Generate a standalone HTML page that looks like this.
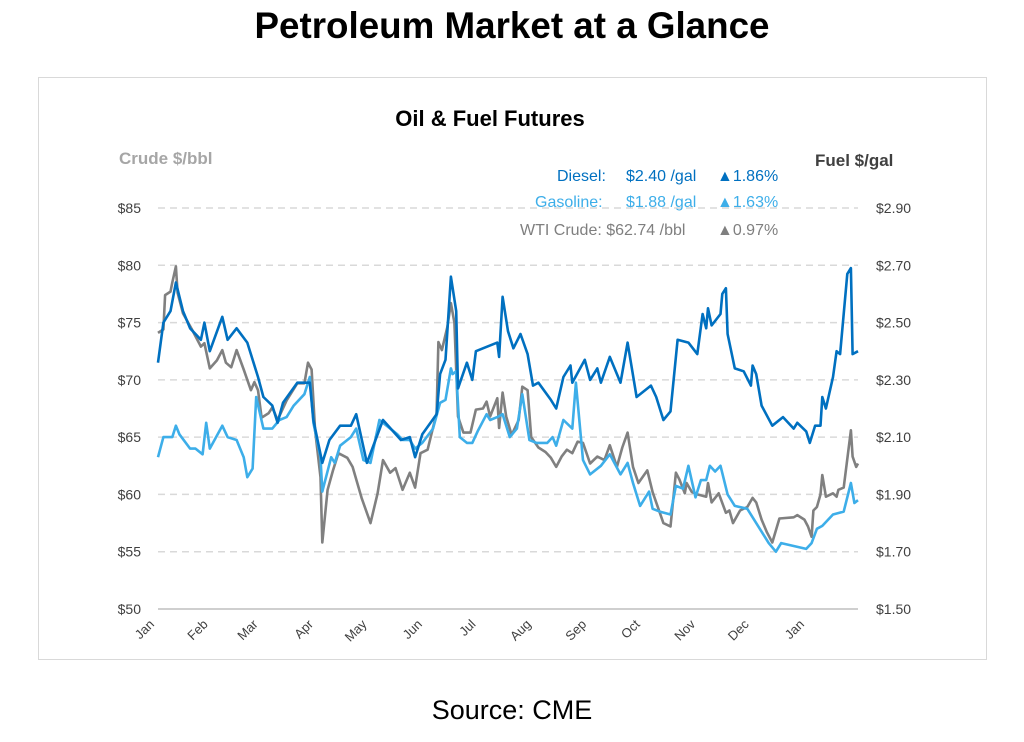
<!DOCTYPE html>
<html><head><meta charset="utf-8"><style>
body{margin:0;background:#fff;font-family:"Liberation Sans",sans-serif}
svg text{font-family:"Liberation Sans",sans-serif}
</style></head><body>
<svg id="c" width="1024" height="737" viewBox="0 0 1024 737" xmlns="http://www.w3.org/2000/svg">
<text x="512" y="38" text-anchor="middle" font-size="37" font-weight="bold" fill="#000" textLength="515" lengthAdjust="spacingAndGlyphs">Petroleum Market at a Glance</text>
<rect x="38.5" y="77.5" width="948" height="582" fill="none" stroke="#d9d9d9"/>
<text x="490" y="126" text-anchor="middle" font-size="22" font-weight="bold" fill="#000">Oil &amp; Fuel Futures</text>
<text x="119" y="164" font-size="17" font-weight="bold" fill="#a6a6a6">Crude $/bbl</text>
<text x="815" y="166" font-size="17" font-weight="bold" fill="#404040">Fuel $/gal</text>
<g font-size="16">
<text x="557" y="181" fill="#0070c0">Diesel:</text>
<text x="626" y="181" fill="#0070c0">$2.40 /gal</text>
<text x="717" y="181" fill="#0070c0">▲1.86%</text>
<text x="535" y="207" fill="#3daee9">Gasoline:</text>
<text x="626" y="207" fill="#3daee9">$1.88 /gal</text>
<text x="717" y="207" fill="#3daee9">▲1.63%</text>
<text x="520" y="235" fill="#7f7f7f">WTI Crude: $62.74 /bbl</text>
<text x="717" y="235" fill="#7f7f7f">▲0.97%</text>
</g>
<g id="grid"></g><g id="axes"></g><g id="lines"></g>
<text x="512" y="719" text-anchor="middle" font-size="27" fill="#000">Source: CME</text>
</svg>
<script>
const crudeTicks=[50,55,60,65,70,75,80,85];
const fuelTicks=["$1.50","$1.70","$1.90","$2.10","$2.30","$2.50","$2.70","$2.90"];
const monthLabels=["Jan","Feb","Mar","Apr","May","Jun","Jul","Aug","Sep","Oct","Nov","Dec","Jan"];
const monthDays=[-14,16,44,75,105,136,166,197,228,258,289,319,350];
const dieselDays=[0,3,7,10,14,18,24,26,29,36,39,44,50,56,59,64,67,70,78,85,87,92,96,102,108,111,117,126,136,141,144,148,156,158,161,164,167,168,173,176,178,182,190,191,193,196,199,203,207,210,213,220,223,227,231,232,239,242,246,248,253,259,263,268,276,279,283,287,291,297,302,305,307,308,310,315,316,318,319,323,328,332,333,335,338,344,350,356,358,363,365,368,371,372,374,378,380,382,386,388,389,392];
const dieselVals=[2.36,2.50,2.54,2.64,2.54,2.48,2.44,2.50,2.40,2.52,2.44,2.48,2.43,2.31,2.24,2.21,2.15,2.22,2.29,2.29,2.16,2.01,2.09,2.14,2.14,2.18,2.01,2.16,2.09,2.10,2.03,2.11,2.18,2.32,2.37,2.66,2.54,2.27,2.36,2.30,2.40,2.41,2.43,2.38,2.59,2.47,2.41,2.46,2.39,2.28,2.29,2.23,2.20,2.31,2.35,2.29,2.37,2.30,2.34,2.29,2.38,2.29,2.43,2.24,2.28,2.24,2.16,2.19,2.44,2.43,2.39,2.53,2.48,2.55,2.49,2.53,2.60,2.62,2.46,2.34,2.33,2.28,2.35,2.32,2.21,2.14,2.17,2.13,2.15,2.12,2.08,2.14,2.14,2.24,2.20,2.31,2.40,2.39,2.67,2.69,2.39,2.40];
const gasDays=[0,3,8,10,12,18,21,25,27,29,36,39,44,48,50,53,55,59,64,68,72,76,82,85,87,91,92,97,99,102,108,111,115,119,124,128,134,137,141,144,148,154,158,161,164,165,167,169,173,176,179,184,186,190,193,197,201,204,208,212,218,221,223,227,232,234,238,242,248,253,259,263,266,270,275,277,281,287,290,294,297,301,304,307,309,312,315,319,323,330,337,342,346,349,356,363,366,369,372,378,384,388,390,392];
const gasVals=[2.03,2.10,2.10,2.14,2.11,2.06,2.06,2.04,2.15,2.06,2.14,2.10,2.09,2.03,1.96,1.99,2.24,2.13,2.13,2.16,2.17,2.21,2.25,2.31,2.15,2.03,1.91,2.03,2.01,2.07,2.10,2.13,2.02,2.01,2.16,2.14,2.11,2.09,2.09,2.06,2.08,2.13,2.22,2.23,2.34,2.32,2.33,2.10,2.08,2.08,2.12,2.18,2.16,2.17,2.18,2.10,2.13,2.25,2.09,2.08,2.08,2.10,2.07,2.16,2.13,2.29,2.02,1.97,2.00,2.04,1.97,2.01,1.94,1.86,1.91,1.85,1.84,1.83,1.93,1.92,2.00,1.89,1.95,1.95,2.00,1.98,2.00,1.90,1.86,1.85,1.78,1.73,1.70,1.73,1.72,1.71,1.73,1.78,1.79,1.83,1.84,1.94,1.87,1.88];
const crudeDays=[0,3,4,7,8,10,11,14,19,24,26,29,33,36,38,41,44,48,52,54,56,58,62,64,67,72,78,82,84,86,88,91,92,95,98,101,106,109,114,119,123,126,130,133,137,141,144,147,151,156,157,159,162,164,166,168,171,175,178,182,184,186,188,190,191,193,195,198,202,204,207,209,213,217,220,223,226,229,232,235,238,242,246,250,253,257,260,263,266,269,274,277,279,283,287,290,292,295,296,299,302,307,308,310,314,318,320,322,326,330,333,335,338,341,344,348,356,358,362,364,366,367,369,371,372,374,378,380,381,384,388,389,391,392];
const crudeVals=[74.1,74.4,77.4,77.7,78.5,79.9,77.6,75.8,74.4,72.9,73.2,71.0,71.7,72.6,71.5,71.1,72.6,70.9,69.1,69.8,69.1,66.7,67.1,67.6,66.5,68.2,69.7,69.7,71.5,70.9,65.6,61.5,55.8,60.4,62.1,63.6,63.2,62.4,59.7,57.5,60.1,63.0,61.9,62.3,60.4,61.9,60.6,63.6,63.9,67.1,73.3,72.6,74.6,76.7,75.0,66.8,65.4,65.4,67.4,67.5,68.1,66.8,67.6,68.4,65.8,68.9,66.8,65.2,66.5,69.4,69.1,65.0,64.1,63.7,63.2,62.4,63.3,63.9,63.6,64.6,64.5,62.7,63.3,63.0,64.3,62.4,64.1,65.4,62.4,61.0,62.1,60.2,59.3,57.5,57.2,61.9,61.3,60.1,61.0,60.2,60.0,59.8,61.0,59.3,60.1,58.4,58.6,57.5,58.6,58.9,59.7,59.3,57.8,56.7,55.8,57.9,58.0,58.2,57.8,57.2,56.3,58.6,58.9,60.0,61.7,59.8,60.1,59.8,60.4,60.6,65.6,63.3,62.4,62.7];

const X0=158,X1=858,Y0=609,Y1=208;
const xScale=d=>X0+d*(X1-X0)/392;
const yCrude=v=>Y0-(v-50)*(Y0-Y1)/35;
const yFuel=v=>Y0-(v-1.5)*(Y0-Y1)/1.4;
const NS="http://www.w3.org/2000/svg";
function mk(tag,attrs,parent,txt){const e=document.createElementNS(NS,tag);for(const k in attrs)e.setAttribute(k,attrs[k]);if(txt!==undefined)e.textContent=txt;parent.appendChild(e);return e;}
const grid=document.getElementById('grid'),axes=document.getElementById('axes'),lines=document.getElementById('lines');
crudeTicks.forEach((t,i)=>{
  const y=yCrude(t);
  if(t>50){const g=mk('line',{x1:X0,x2:X1,y1:y,y2:y,stroke:'#d9d9d9','stroke-width':1.5,'stroke-dasharray':'7,5'},grid);
  
  }
  const l=mk('text',{x:141,y:y+5,'text-anchor':'end','font-size':14,fill:'#404040'},axes,'$'+t);
  
  
  const r=mk('text',{x:876,y:y+5,'font-size':14,fill:'#404040'},axes,fuelTicks[i]);
  
  
});
const ax=mk('line',{x1:X0,x2:X1,y1:Y0,y2:Y0,stroke:'#bfbfbf','stroke-width':1.5},axes);


monthLabels.forEach((m,i)=>{
  const x=xScale(monthDays[i])+22;
  const t=mk('text',{x:x,y:Y0+16,'text-anchor':'end','font-size':13,fill:'#404040',transform:`rotate(-45 ${x} ${Y0+16})`},axes,m);
  
  
});
function series(days,vals,ys,color,name){
  const d=days.map((dd,i)=>(i?'L':'M')+xScale(dd).toFixed(1)+','+ys(vals[i]).toFixed(1)).join('');
  const p=mk('path',{d:d,fill:'none',stroke:color,'stroke-width':2.6,'stroke-linejoin':'round'},lines);
  
  
}
series(crudeDays,crudeVals,yCrude,'#808080','wti-crude-line');
series(gasDays,gasVals,yFuel,'#3daee9','gasoline-line');
series(dieselDays,dieselVals,yFuel,'#0070c0','diesel-line');
</script>
</body></html>
